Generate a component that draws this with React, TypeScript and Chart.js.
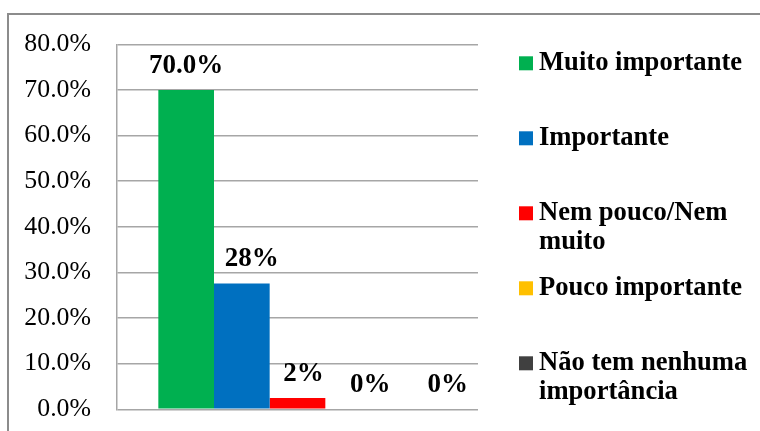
import React, { useEffect, useRef } from 'react';
import { Chart, registerables } from 'chart.js';

Chart.register(...registerables);

const categories = [''];
const seriesNames = [
  'Muito importante',
  'Importante',
  'Nem pouco/Nem muito',
  'Pouco importante',
  'Não tem nenhuma importância',
];
const seriesValues = [70.0, 27.6, 2.5, 0, 0];
const valueLabels = ['70.0%', '28%', '2%', '0%', '0%'];
const seriesColors = ['#00B050', '#0070C0', '#FF0000', '#FFC000', '#404040'];
const yMin = 0;
const yMax = 80;
const yStep = 10;

const SERIF = '"Liberation Serif", "Times New Roman", serif';
const GRID = '#A6A6A6';

function wrapText(ctx: CanvasRenderingContext2D, text: string, maxWidth: number): string[] {
  const words = text.split(' ');
  const lines: string[] = [];
  let cur = '';
  for (const w of words) {
    const test = cur ? cur + ' ' + w : w;
    if (cur && ctx.measureText(test).width > maxWidth) {
      lines.push(cur);
      cur = w;
    } else {
      cur = test;
    }
  }
  if (cur) lines.push(cur);
  return lines;
}

const valueLabelPlugin = {
  id: 'valueLabels',
  afterDatasetsDraw(chart: any, _args: any, opts: any) {
    const ctx = chart.ctx as CanvasRenderingContext2D;
    const shifts: number[] = opts.shiftX || [];
    ctx.save();
    ctx.font = 'bold 27px ' + SERIF;
    ctx.fillStyle = '#000';
    ctx.textAlign = 'center';
    ctx.textBaseline = 'middle';
    chart.data.datasets.forEach((ds: any, i: number) => {
      const meta = chart.getDatasetMeta(i);
      const el = meta.data[0];
      if (!el) return;
      ctx.fillText(valueLabels[i], el.x + (shifts[i] || 0), el.y - (opts.gap || 24));
    });
    ctx.restore();
  },
};

const sideLegendPlugin = {
  id: 'sideLegend',
  afterDraw(chart: any) {
    const ctx = chart.ctx as CanvasRenderingContext2D;
    const area = chart.chartArea;
    ctx.save();
    ctx.font = 'bold 26.6px ' + SERIF;
    ctx.textAlign = 'left';
    ctx.textBaseline = 'middle';
    chart.data.datasets.forEach((ds: any, i: number) => {
      const y0 = area.top + 19 + 75 * i;
      const bx = area.right + 41;
      ctx.fillStyle = ds.backgroundColor;
      ctx.fillRect(bx, y0 - 7, 14, 14);
      ctx.fillStyle = '#000';
      const lines = wrapText(ctx, ds.label, 215);
      lines.forEach((ln, j) => ctx.fillText(ln, bx + 20, y0 + j * 28.5));
    });
    ctx.restore();
  },
};

export default function App() {
  const canvasRef = useRef<HTMLCanvasElement | null>(null);

  useEffect(() => {
    if (!canvasRef.current) return;
    const chart = new Chart(canvasRef.current, {
      type: 'bar',
      data: {
        labels: categories,
        datasets: seriesNames.map((name, i) => ({
          label: name,
          data: [seriesValues[i]],
          backgroundColor: seriesColors[i],
          borderWidth: 0,
          categoryPercentage: 0.771,
          barPercentage: 1.0,
        })),
      },
      options: {
        animation: false,
        responsive: true,
        maintainAspectRatio: false,
        layout: { padding: { left: 0, top: 44.3, right: 282, bottom: 21.7 } },
        plugins: {
          legend: { display: false },
          tooltip: { enabled: false },
          valueLabels: { shiftX: [0, 10, 6, 17, 39], gap: 24 },
        } as any,
        scales: {
          x: { display: false },
          y: {
            min: yMin,
            max: yMax,
            afterFit: (scale: any) => {
              scale.width = 117;
            },
            ticks: {
              stepSize: yStep,
              padding: 0,
              color: '#000',
              font: { family: SERIF, size: 25.8 },
              callback: (v: any) => Number(v).toFixed(1) + '%',
            },
            grid: {
              color: GRID,
              lineWidth: 1.5,
              drawTicks: true,
              tickLength: 26,
              tickColor: 'rgba(0,0,0,0)',
            },
            border: { display: true, color: GRID, width: 1.5 },
          },
        },
      },
      plugins: [valueLabelPlugin, sideLegendPlugin],
    });
    return () => chart.destroy();
  }, []);

  return (
    <div style={{ position: 'absolute', left: 0, top: 0, width: 760, height: 431, background: '#fff', overflow: 'hidden' }}>
      <div
        style={{
          position: 'absolute',
          left: 7,
          top: 13,
          width: 760,
          height: 431,
          borderTop: '2px solid #8C8C8C',
          borderLeft: '2px solid #8C8C8C',
          boxSizing: 'border-box',
        }}
      />
      <div style={{ position: 'absolute', left: 0, top: 0, width: 760, height: 431 }}>
        <canvas ref={canvasRef} />
      </div>
    </div>
  );
}
